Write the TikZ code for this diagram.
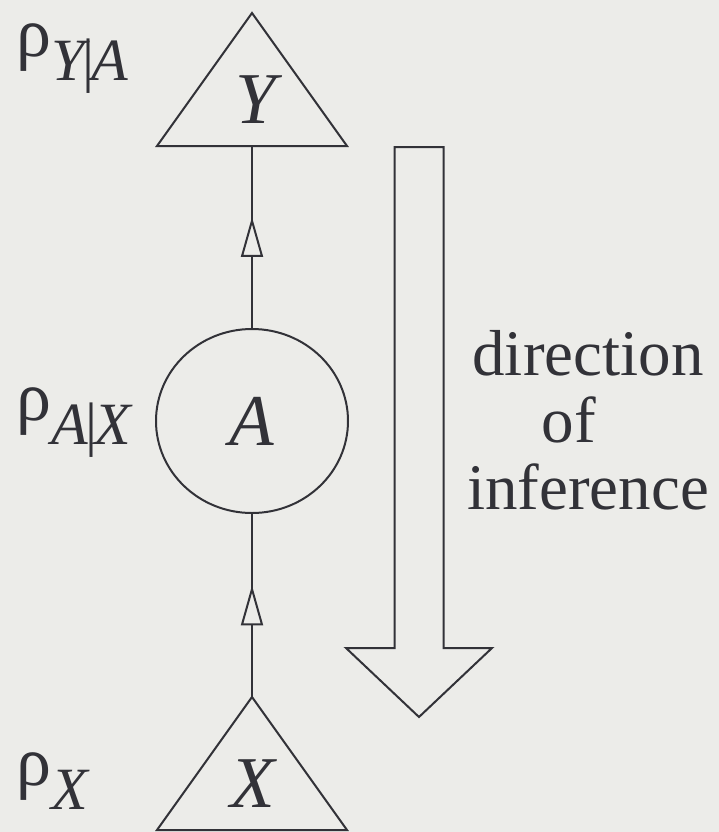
\documentclass[tikz,border=0pt]{standalone}
\usepackage{fontspec}
\setmainfont{Liberation Serif}
\definecolor{paper}{RGB}{236, 236, 233}
\definecolor{ink}{RGB}{50, 50, 56}
\usepackage{tikz}
\usetikzlibrary{shapes.geometric, arrows.meta, decorations.markings}
\newcommand{\rholab}[1]{ρ\raisebox{-12pt}{\fontsize{30pt}{32pt}\selectfont\itshape #1}}
\newcommand{\given}{\kern-1.5pt\textup{|}\kern-1.5pt}

\begin{document}
\begin{tikzpicture}[x=0.5pt, y=-0.5pt, line width=1pt, color=ink,
    var/.style={font=\fontsize{36.5pt}{40pt}\selectfont\itshape, inner sep=0pt},
    lab/.style={font=\fontsize{35pt}{38pt}\selectfont, inner sep=0pt, anchor=base west},
    link/.style={postaction={decorate}, decoration={markings,
      mark=at position 0.61 with {\arrow{Triangle[length=20pt, width=11pt, fill=paper]}}}}]

  % Background
  \fill[paper] (0,0) rectangle (719,832);

  % Y triangle
  \draw[line join=miter] (252,13) -- (347,146) -- (157,146) -- cycle;
  \coordinate (ybase) at (252,146);
  \node[var, anchor=base] (ylet) at (256,123) {Y};
  \node[lab] (rhoy) at (16,56) {\rholab{Y\given A}};

  % A circle
  \node[var, draw, ellipse, minimum width=96pt, minimum height=92pt] (a) at (252,421) {A};
  \node[lab] (rhoa) at (16,420) {\rholab{A\given X}};

  % X triangle
  \draw[line join=miter] (252,697) -- (347,830) -- (157,830) -- cycle;
  \coordinate (xtop) at (252,697);
  \node[var, anchor=base] (xlet) at (253,807) {X};
  \node[lab] (rhox) at (16,785) {\rholab{X}};

  % Links
  \draw[link] (a.north) -- (ybase);
  \draw[link] (xtop) -- (a.south);

  % Direction of inference
  \draw[line join=miter] (394.5,147) -- (443.5,147) -- (443.5,648) -- (492,648)
    -- (419,717) -- (346,648) -- (394.5,648) -- cycle;
  \node[font=\fontsize{32.5pt}{33.5pt}\selectfont, align=center, inner sep=0pt] (dir) at (588,420)
    {direction\\\hbox{of\kern19pt}\\inference};
\end{tikzpicture}
\end{document}
